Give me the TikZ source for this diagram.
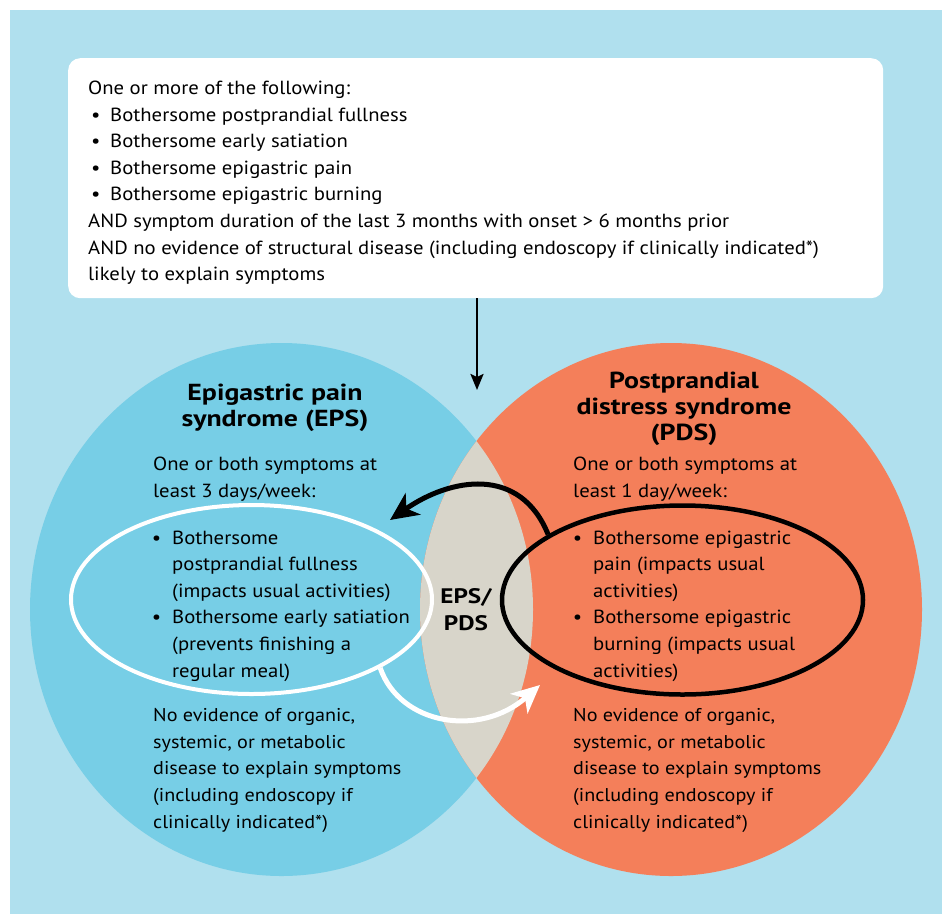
\documentclass[tikz,border=0pt]{standalone}
\usepackage{fontspec}
\setmainfont{PT Sans}[FakeStretch=1.09, BoldFeatures={FakeStretch=1.2}]
\usetikzlibrary{arrows.meta,shapes.geometric}
\definecolor{bgblue}{HTML}{B0E0EE}
\definecolor{epsblue}{HTML}{77CEE6}
\definecolor{pdsorange}{HTML}{F47F5A}
\definecolor{lensgrey}{HTML}{D8D5CA}
\newcommand\bl{\llap{•\hspace{11pt}}}
\newcommand\tb{\makebox[22pt][l]{\hspace{3pt}•}}
\tikzset{
  txt/.style={anchor=base west, align=left, inner sep=0pt, font=\fontsize{19}{26.6}\selectfont},
  smalltxt/.style={txt, font=\fontsize{18.5}{26.6}\selectfont},
  ttl/.style={anchor=base, align=center, inner sep=0pt, font=\bfseries\fontsize{23.2}{26}\selectfont},
  bothttl/.style={anchor=base, align=center, inner sep=0pt, font=\bfseries\fontsize{21}{27}\selectfont},
  critbox/.style={fill=white, rounded corners=12pt, inner sep=0pt, anchor=north west},
  symell/.style={ellipse, inner sep=0pt},
}
\begin{document}
\begin{tikzpicture}[x=1pt,y=-1pt]
\useasboundingbox (0,0) rectangle (945,914);
\fill[bgblue] (10,10) rectangle (942,914);
% Venn circles
\fill[epsblue] (281.5,609.5) ellipse [x radius=251.5pt, y radius=266.5pt];
\fill[pdsorange] (671,609.5) ellipse [x radius=251pt, y radius=266.5pt];
\begin{scope}
\clip (281.5,609.5) ellipse [x radius=251.5pt, y radius=266.5pt];
\fill[lensgrey] (671,609.5) ellipse [x radius=251pt, y radius=266.5pt];
\end{scope}
% criteria box (multi-line nodes are anchored at the baseline of their last line)
\node[critbox, minimum width=815pt, minimum height=240pt] (crit) at (68,58) {};
\node[txt] (crittext) at (88,280.7) {One or more of the following:\\
\tb Bothersome postprandial fullness\\
\tb Bothersome early satiation\\
\tb Bothersome epigastric pain\\
\tb Bothersome epigastric burning\\
AND symptom duration of the last 3 months with onset > 6 months prior\\
AND no evidence of structural disease (including endoscopy if clinically indicated*)\\
likely to explain symptoms};
\coordinate (atip) at (477,390);
\draw[line width=2.4pt, -{Stealth[length=16pt,width=13pt,inset=3pt]}] (crit.south -| atip) -- (atip);
% titles
\node[ttl] (epst) at (275,426) {Epigastric pain\\syndrome (EPS)};
\node[ttl] (pdst) at (684,440) {Postprandial\\distress syndrome\\(PDS)};
\node[bothttl] (both) at (466,630) {EPS/\\PDS};
% intro texts
\node[txt] (epsintro) at (153,497) {One or both symptoms at\\least 3 days/week:};
\node[txt] (pdsintro) at (573,497) {One or both symptoms at\\least 1 day/week:};
% symptom ellipses
\node[symell, draw=white, line width=4pt, minimum width=361pt, minimum height=189pt] (eps) at (251.5,599.5) {};
\node[symell, draw=black, line width=4.5pt, minimum width=361pt, minimum height=189pt] (pds) at (682.5,600) {};
\node[txt] (epslist) at (172,677) {\bl Bothersome\\postprandial fullness\\(impacts usual activities)\\\bl Bothersome early satiation\\(prevents finishing a\\regular meal)};
\node[txt] (pdslist) at (593,677) {\bl Bothersome epigastric\\pain (impacts usual\\activities)\\\bl Bothersome epigastric\\burning (impacts usual\\activities)};
% bottom texts
\node[smalltxt] (epsno) at (153,828) {No evidence of organic,\\systemic, or metabolic\\disease to explain symptoms\\(including endoscopy if\\clinically indicated*)};
\node[smalltxt] (pdsno) at (573,828) {No evidence of organic,\\systemic, or metabolic\\disease to explain symptoms\\(including endoscopy if\\clinically indicated*)};
% curved arrows
\coordinate (btip) at (390,520);
\coordinate (wtip) at (540,685);
\draw[line width=5pt, -{Stealth[length=28pt,width=26pt,inset=8pt]}] (pds.154) .. controls (520,465) and (450,478) .. (btip);
\draw[white, line width=5pt, -{Stealth[length=28pt,width=26pt,inset=8pt]}] (eps.-28) .. controls (400,725) and (480,738) .. (wtip);
\end{tikzpicture}
\end{document}
